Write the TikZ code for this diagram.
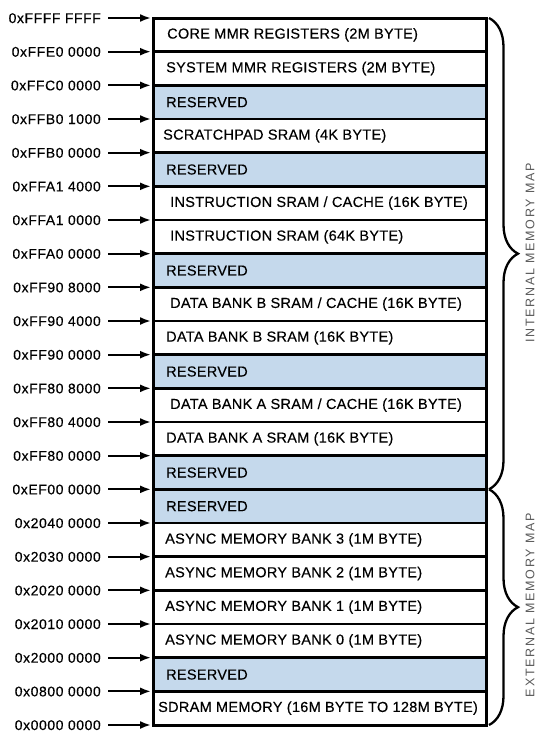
\documentclass[tikz,border=0pt]{standalone}
\usepackage{fontspec}
\setmainfont{Liberation Sans}
\usetikzlibrary{arrows.meta,decorations.pathreplacing}
\definecolor{resblue}{HTML}{C5D9EC}
\newcommand\mmslash{/}
\begin{document}
\begin{tikzpicture}[x=1pt,y=-1pt,
  rowbox/.style={draw=black,line width=2.4pt,minimum width=333pt,minimum height=33.667pt,inner sep=0pt,outer sep=0pt},
  rowtext/.style={anchor=west,inner sep=0pt,font=\fontsize{14.5}{17}\selectfont\addfontfeature{LetterSpace=2,FakeBold=0.3},text=black},
  addr/.style={anchor=east,inner sep=0pt,font=\fontsize{14}{16}\selectfont\addfontfeature{LetterSpace=4,FakeBold=0.3},text=black,text height=10pt,text depth=0pt},
  arr/.style={line width=2pt,shorten <=7pt,-{Latex[length=11pt,width=8pt]}},
  bracestyle/.style={decorate,decoration={brace,amplitude=29pt},line width=2.3pt},
  side/.style={rotate=90,inner sep=0pt,font=\fontsize{12.5}{15}\selectfont\addfontfeature{LetterSpace=14},text=black!65}]
\useasboundingbox (0,0) rectangle (539,734);
\def\rowh{33.667}
\foreach \txt/\fc/\tx [count=\i] in {
  CORE MMR REGISTERS (2M BYTE)/white/167,
  SYSTEM MMR REGISTERS (2M BYTE)/white/166,
  RESERVED/resblue/166,
  SCRATCHPAD SRAM (4K BYTE)/white/163,
  RESERVED/resblue/166,
  INSTRUCTION SRAM \mmslash{} CACHE (16K BYTE)/white/170,
  INSTRUCTION SRAM (64K BYTE)/white/170,
  RESERVED/resblue/166,
  DATA BANK B SRAM \mmslash{} CACHE (16K BYTE)/white/170,
  DATA BANK B SRAM (16K BYTE)/white/166,
  RESERVED/resblue/166,
  DATA BANK A SRAM \mmslash{} CACHE (16K BYTE)/white/170,
  DATA BANK A SRAM (16K BYTE)/white/166,
  RESERVED/resblue/166,
  RESERVED/resblue/166,
  ASYNC MEMORY BANK 3 (1M BYTE)/white/165,
  ASYNC MEMORY BANK 2 (1M BYTE)/white/165,
  ASYNC MEMORY BANK 1 (1M BYTE)/white/165,
  ASYNC MEMORY BANK 0 (1M BYTE)/white/165,
  RESERVED/resblue/166,
  SDRAM MEMORY (16M BYTE TO 128M BYTE)/white/158}{
  \pgfmathsetmacro\yc{18+(\i-0.5)*\rowh}
  \node[rowbox,fill=\fc] (r\i) at (319.5,\yc) {};
  \node[rowtext] (t\i) at (\tx,\yc) {\txt};
}
\draw[line width=3pt] (r1.north west) rectangle (r21.south east);
\foreach \lab [count=\j from 0] in {
  0xFFFF FFFF, 0xFFE0 0000, 0xFFC0 0000, 0xFFB0 1000, 0xFFB0 0000,
  0xFFA1 4000, 0xFFA1 0000, 0xFFA0 0000, 0xFF90 8000, 0xFF90 4000,
  0xFF90 0000, 0xFF80 8000, 0xFF80 4000, 0xFF80 0000, 0xEF00 0000,
  0x2040 0000, 0x2030 0000, 0x2020 0000, 0x2010 0000, 0x2000 0000,
  0x0800 0000, 0x0000 0000}{
  \pgfmathsetmacro\yb{18+\j*\rowh}
  \node[addr] (a\j) at (101,\yb) {\lab};
  \coordinate (b\j) at (151,\yb);
  \draw[arr] (a\j.east) -- (b\j);
}
\coordinate (bi0) at (489,18);
\coordinate (bi1) at (489,489.3);
\coordinate (bi2) at (489,725);
\draw[bracestyle] (bi0) -- (bi1);
\draw[bracestyle] (bi1) -- (bi2);
\node[side] (intl) at (530,253) {INTERNAL MEMORY MAP};
\node[side] (extl) at (530,605) {EXTERNAL MEMORY MAP};
\end{tikzpicture}
\end{document}
